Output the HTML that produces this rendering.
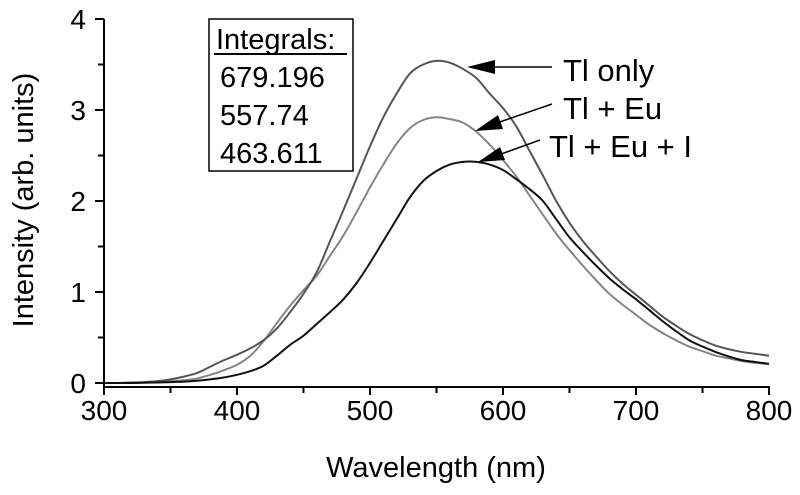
<!DOCTYPE html>
<html><head><meta charset="utf-8"><style>
body{margin:0;background:#fff}
svg{display:block;font-family:"Liberation Sans",Arial,sans-serif}
</style></head><body>
<svg id="chart" width="800" height="495" viewBox="0 0 800 495" xmlns="http://www.w3.org/2000/svg">
<g id="axes"></g>
<g id="series"></g>
<g>
<rect x="209" y="19" width="144" height="152" fill="#fff" stroke="#000" stroke-width="1.5"/>
<text x="216" y="49" font-size="29">Integrals:</text>
<line x1="214" y1="54" x2="347" y2="54" stroke="#000" stroke-width="2"/>
<text x="220" y="87" font-size="29">679.196</text>
<text x="220" y="125" font-size="29">557.74</text>
<text x="220" y="163" font-size="29">463.611</text>
</g>
<g>
<line x1="480" y1="67" x2="552" y2="67" stroke="#000" stroke-width="1.5"/>
<polygon points="467,67 495,60 495,74" fill="#000"/>
<text x="563" y="81" font-size="31">Tl only</text>
<line x1="488" y1="126" x2="552" y2="104" stroke="#000" stroke-width="1.5"/>
<polygon points="475,131 498,115 503,129" fill="#000"/>
<text x="563" y="119" font-size="31">Tl + Eu</text>
<line x1="490" y1="158" x2="540" y2="140" stroke="#000" stroke-width="1.5"/>
<polygon points="478,162 500,147 505,160" fill="#000"/>
<text x="549" y="157" font-size="31">Tl + Eu + I</text>
</g>
<text x="436" y="477" font-size="29" text-anchor="middle">Wavelength  (nm)</text>
<text transform="translate(33,200) rotate(-90)" font-size="29" text-anchor="middle">Intensity  (arb. units)</text>
</svg>
<script>
const wavelengths=[300,310,320,330,340,350,360,370,380,390,400,410,420,430,440,450,460,470,480,490,500,510,520,530,540,550,560,570,580,590,600,610,620,630,640,650,660,670,680,690,700,710,720,730,740,750,760,770,780,790,800];
const tlOnly=[0,0,0.005,0.01,0.02,0.04,0.07,0.11,0.18,0.25,0.31,0.38,0.47,0.60,0.78,0.98,1.22,1.56,1.90,2.25,2.60,2.92,3.18,3.40,3.50,3.54,3.52,3.45,3.35,3.18,3.02,2.82,2.55,2.28,2.00,1.76,1.56,1.39,1.23,1.09,0.97,0.85,0.73,0.63,0.54,0.47,0.41,0.37,0.34,0.32,0.30];
const tlEu=[0,0,0.003,0.007,0.012,0.02,0.03,0.05,0.09,0.14,0.20,0.30,0.46,0.66,0.85,1.02,1.18,1.40,1.62,1.88,2.15,2.40,2.63,2.80,2.89,2.92,2.90,2.86,2.76,2.62,2.45,2.27,2.06,1.85,1.64,1.46,1.29,1.13,0.98,0.86,0.75,0.64,0.55,0.47,0.40,0.35,0.30,0.27,0.24,0.22,0.21];
const tlEuI=[0,0,0,0.003,0.006,0.01,0.015,0.025,0.04,0.06,0.09,0.13,0.19,0.30,0.42,0.52,0.65,0.78,0.92,1.10,1.32,1.56,1.80,2.04,2.22,2.33,2.40,2.43,2.43,2.40,2.34,2.24,2.13,2.00,1.80,1.60,1.44,1.29,1.15,1.03,0.92,0.80,0.68,0.57,0.47,0.40,0.34,0.29,0.25,0.23,0.21];
const xTicks=[300,400,500,600,700,800];
const yTicks=[0,1,2,3,4];
const NS="http://www.w3.org/2000/svg";
const X=v=>104+(v-300)*1.33;
const Y=v=>383-v*91;
function mk(tag,attrs,parent){const e=document.createElementNS(NS,tag);for(const k in attrs)e.setAttribute(k,attrs[k]);parent.appendChild(e);return e;}
const ax=document.getElementById('axes');
let l=mk('line',{x1:104,y1:19,x2:104,y2:387,stroke:'#000','stroke-width':2},ax);


l=mk('line',{x1:103,y1:387,x2:770,y2:387,stroke:'#000','stroke-width':2},ax);


for(let v=300;v<=800;v+=50){const t=mk('line',{x1:X(v),y1:387,x2:X(v),y2:v%100===0?395:393,stroke:'#000','stroke-width':2},ax);

}
xTicks.forEach(v=>{const t=mk('text',{x:X(v),y:420,'font-size':28,'text-anchor':'middle'},ax);t.textContent=v;

});
for(let v=0;v<=4;v+=0.5){const t=mk('line',{x1:v%1===0?95:98,y1:Y(v),x2:104,y2:Y(v),stroke:'#000','stroke-width':2},ax);

}
yTicks.forEach(v=>{const t=mk('text',{x:86,y:Y(v)+10,'font-size':28,'text-anchor':'end'},ax);t.textContent=v;

});
function pathD(vals){const p=wavelengths.map((w,i)=>[X(w),Y(vals[i])]);let d='M'+p[0][0]+','+p[0][1];
for(let i=0;i<p.length-1;i++){const p0=p[Math.max(0,i-1)],p1=p[i],p2=p[i+1],p3=p[Math.min(p.length-1,i+2)];
const c1=[p1[0]+(p2[0]-p0[0])/6,p1[1]+(p2[1]-p0[1])/6],c2=[p2[0]-(p3[0]-p1[0])/6,p2[1]-(p3[1]-p1[1])/6];
d+=` C${c1[0]},${c1[1]} ${c2[0]},${c2[1]} ${p2[0]},${p2[1]}`;}return d;}
const sg=document.getElementById('series');
let s=mk('path',{d:pathD(tlEu),fill:'none',stroke:'#858585','stroke-width':2},sg);


s=mk('path',{d:pathD(tlOnly),fill:'none',stroke:'#555','stroke-width':2},sg);


s=mk('path',{d:pathD(tlEuI),fill:'none',stroke:'#111','stroke-width':2},sg);


</script>
</body></html>
